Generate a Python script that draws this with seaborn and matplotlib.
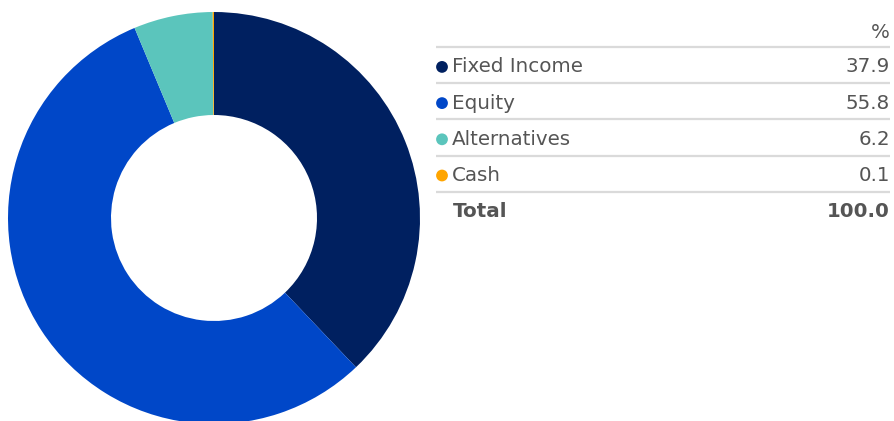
import matplotlib
matplotlib.use("Agg")
import matplotlib.pyplot as plt
import seaborn as sns
import pandas as pd

categories = ["Fixed Income", "Equity", "Alternatives", "Cash"]
weights = [37.9, 55.8, 6.2, 0.1]
colors = ["#002060", "#0047C8", "#5BC5BC", "#FFA500"]
total_label = "100.0"

sns.set_theme(style="white")
plt.rcParams["font.family"] = ["DejaVu Sans"]
text_color = "#555555"
line_color = "#DADADA"

W, H = 894, 421
fig = plt.figure(figsize=(W / 100, H / 100), dpi=100)

# donut
cx, cy, r = 214, 218, 206
ax = fig.add_axes([(cx - r) / W, (H - cy - r) / H, 2 * r / W, 2 * r / H])
ax.pie(weights, colors=colors, startangle=90, counterclock=False,
       wedgeprops=dict(width=0.5, linewidth=0), radius=1)
ax.set_xlim(-1, 1)
ax.set_ylim(-1, 1)
ax.axis("off")

# table on the right, in pixel coordinates
tx = fig.add_axes([0, 0, 1, 1], zorder=2)
tx.patch.set_alpha(0)

x0, x1 = 436, 890
row_h = 36.2
header_y = 33
first_line = 47
fs = 14.3

df = pd.DataFrame({"cat": categories, "val": weights})
df["y"] = first_line + (df.index + 0.55) * row_h
df["x"] = 442
sns.scatterplot(data=df, x="x", y="y", hue="cat", palette=colors, s=72,
                edgecolor="none", legend=False, ax=tx)
tx.set_xlim(0, W)
tx.set_ylim(H, 0)
tx.axis("off")

tx.text(x1, header_y, "%", ha="right", va="center", fontsize=fs, color=text_color)
for i in range(len(categories) + 1):
    y = first_line + i * row_h
    tx.plot([x0, x1], [y, y], color=line_color, lw=1.6, solid_capstyle="butt")

for _, row in df.iterrows():
    tx.text(452, row["y"], row["cat"], ha="left", va="center", fontsize=fs, color=text_color)
    tx.text(x1, row["y"], f"{row['val']:.1f}", ha="right", va="center", fontsize=fs, color=text_color)

ty = first_line + (len(categories) + 0.55) * row_h
tx.text(453, ty, "Total", ha="left", va="center", fontsize=fs, color=text_color, fontweight="bold")
tx.text(x1, ty, total_label, ha="right", va="center", fontsize=fs, color=text_color, fontweight="bold")

fig.savefig("out.png", dpi=100)
